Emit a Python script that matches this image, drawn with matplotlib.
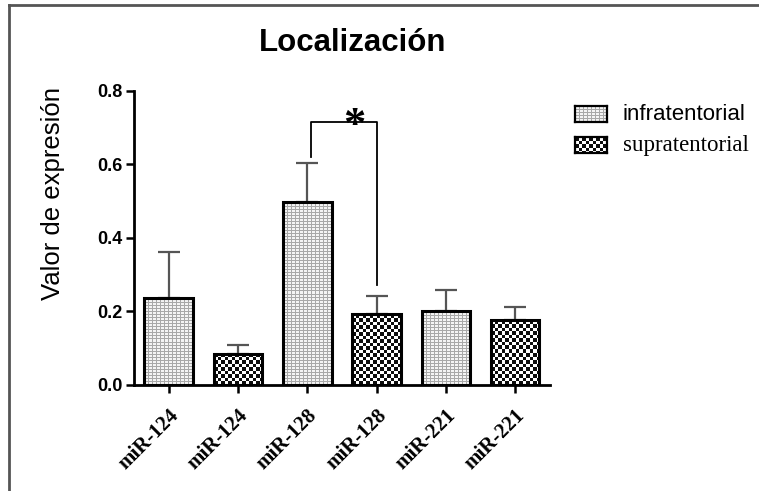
import numpy as np
import matplotlib.pyplot as plt
from matplotlib.lines import Line2D

# expression values per group (mean and upper SEM)
labels = ['miR-124', 'miR-124', 'miR-128', 'miR-128', 'miR-221', 'miR-221']
groups = ['infra', 'supra', 'infra', 'supra', 'infra', 'supra']
means = [0.237, 0.084, 0.498, 0.193, 0.201, 0.177]
errors = [0.125, 0.025, 0.106, 0.049, 0.058, 0.035]
legend_names = ['infratentorial', 'supratentorial']

# significance bracket between miR-128 bars
sig_pair = [2, 3]
sig_level = 0.716
sig_left_end = 0.62
sig_right_end = 0.272

W, H = 759, 491
ax_rect = [0.1765, 0.2159, 0.548, 0.5988]
xlim = (-0.5, 5.5)
ylim = (0, 0.8)
bar_w = 0.7


def fill_pattern(kind, w_px, h_px):
    """RGB pixel texture used to fill the bars"""
    w_px, h_px = max(int(round(w_px)), 1), max(int(round(h_px)), 1)
    j, i = np.meshgrid(np.arange(w_px), np.arange(h_px))
    img = np.ones((h_px, w_px, 3))
    if kind == 'infra':
        grid = (j % 4 == 0) | (i % 3 == 0)
        img[grid] = 0.66
        img[~grid] = 0.96
    else:
        dark = ((np.floor(j / 3.5) + np.floor(i / 3.5)) % 2) == 0
        img[dark] = 0.05
    return img


fig = plt.figure(figsize=(W / 100, H / 100), dpi=100)
ax = fig.add_axes(ax_rect)
px_x = ax_rect[2] * W / (xlim[1] - xlim[0])
px_y = ax_rect[3] * H / (ylim[1] - ylim[0])

x = list(range(len(means)))
for i in x:
    bar = ax.bar(i, means[i], width=bar_w, fill=False, edgecolor='black',
                 linewidth=2.2, zorder=3)[0]
    tex = fill_pattern(groups[i], bar_w * px_x, means[i] * px_y)
    im = ax.imshow(tex, extent=(i - bar_w / 2, i + bar_w / 2, 0, means[i]),
                   origin='lower', interpolation='nearest', aspect='auto', zorder=2)
    im.set_clip_path(bar)

ax.errorbar(x, means, yerr=[[0] * len(errors), errors], fmt='none', ecolor='#555555',
            elinewidth=1.6, capsize=8, capthick=1.6, zorder=1)

# bracket + asterisk
xl, xr = sig_pair[0] + 0.06, sig_pair[1]
ax.plot([xl, xl, xr, xr], [sig_left_end, sig_level, sig_level, sig_right_end],
        color='black', linewidth=1.3, zorder=4)
ax.text(2.68, 0.706, '*', ha='center', va='center', fontsize=32, fontweight='bold',
        family='Liberation Serif', zorder=5)

ax.set_xlim(*xlim)
ax.set_ylim(*ylim)
ax.set_yticks([0.0, 0.2, 0.4, 0.6, 0.8])
ax.set_yticklabels(['0.0', '0.2', '0.4', '0.6', '0.8'], fontsize=13,
                   fontweight='bold', family='Liberation Sans')
ax.set_xticks(x)
ax.set_xticklabels(labels, rotation=45, ha='right', rotation_mode='anchor',
                   fontsize=15, fontweight='bold', family='Liberation Serif')
ax.tick_params(axis='both', direction='out', length=6, width=1.8)
ax.tick_params(axis='x', pad=9)
ax.tick_params(axis='y', pad=2)

for side in ['top', 'right']:
    ax.spines[side].set_visible(False)
for side in ['left', 'bottom']:
    ax.spines[side].set_linewidth(2)

fig.text(53 / W, 1 - 193 / H, 'Valor de expresión', rotation=90, ha='center', va='center',
         fontsize=18.5, family='Liberation Sans')
fig.text(0.465, 0.912, 'Localización', ha='center', va='center', fontsize=22.5,
         fontweight='bold', family='Liberation Sans')

# legend swatches drawn with the same textures
legend_rows = [(114, 'infra', 'Liberation Sans', 16), (145, 'supra', 'Liberation Serif', 16.5)]
for (yc, kind, fam, fs), name in zip(legend_rows, legend_names):
    sw = fig.add_axes([575 / W, 1 - (yc + 8) / H, 32 / W, 16 / H])
    sw.imshow(fill_pattern(kind, 32, 16), interpolation='nearest', aspect='auto')
    sw.set_xticks([])
    sw.set_yticks([])
    for s in sw.spines.values():
        s.set_linewidth(1.6)
    fig.text(623 / W, 1 - yc / H, name, ha='left', va='center', fontsize=fs, family=fam)

# frame lines at top and left edge
fig.add_artist(Line2D([9 / W, 1], [1 - 5 / H, 1 - 5 / H], color='#555555', linewidth=2))
fig.add_artist(Line2D([9 / W, 9 / W], [0, 1 - 5 / H], color='#555555', linewidth=2))

fig.savefig('out.png', dpi=100)
